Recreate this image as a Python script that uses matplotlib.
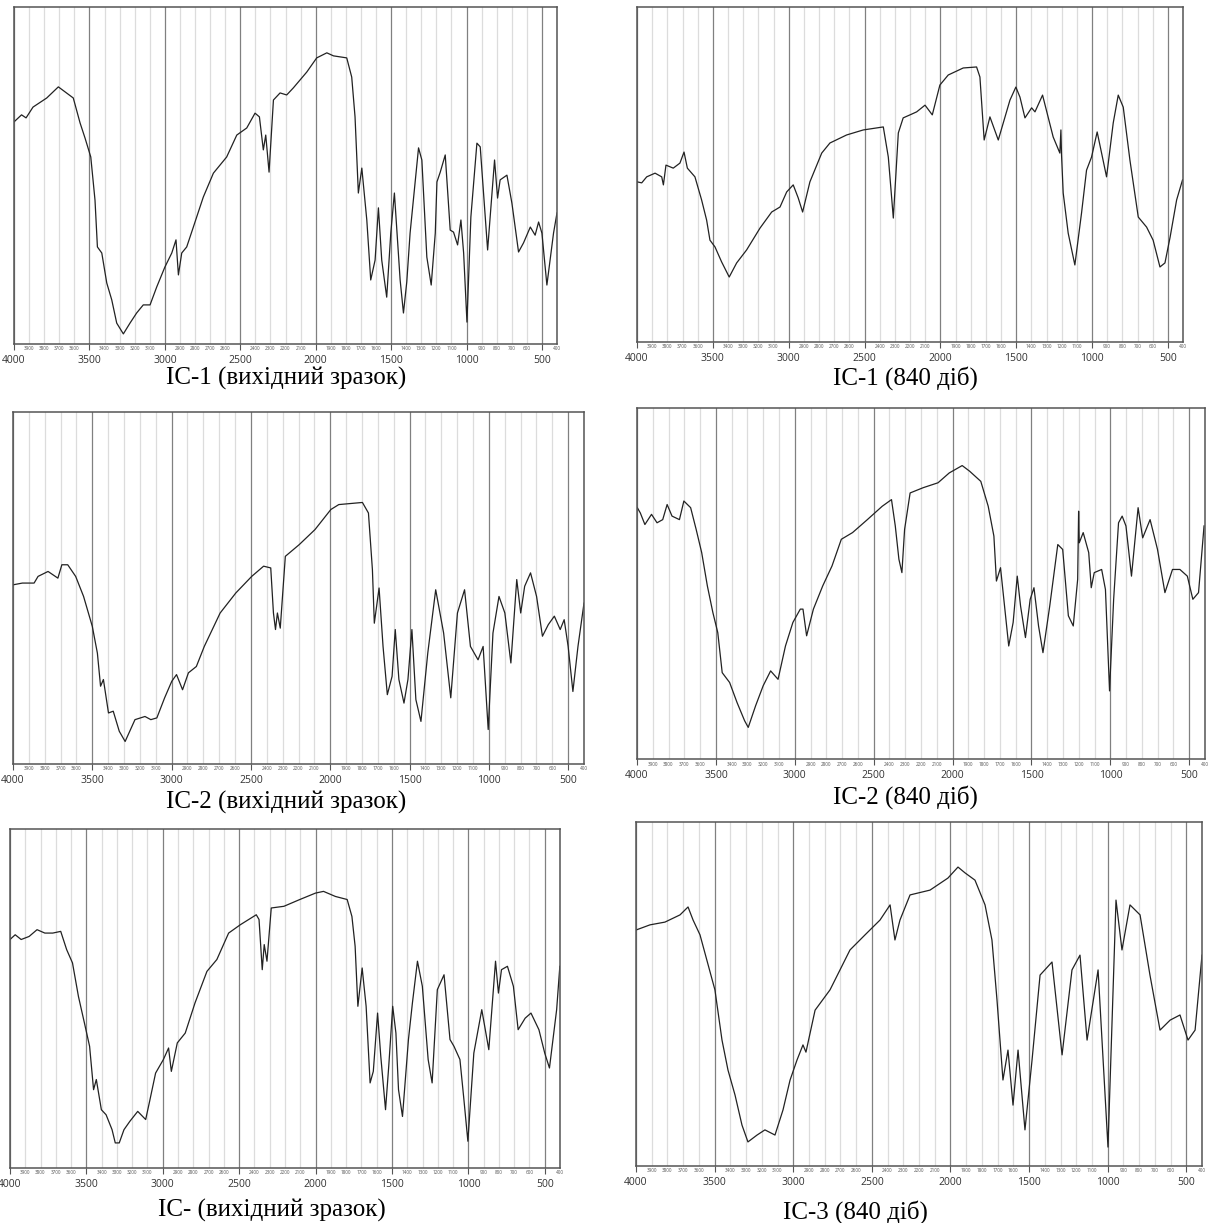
import matplotlib.pyplot as plt
from matplotlib.ticker import FixedLocator, FixedFormatter

# IR spectra, wavenumber (cm-1) and relative transmittance (0..100 of frame)
wn1 = [4000, 3950, 3920, 3874, 3783, 3706, 3607, 3562, 3529, 3491, 3463, 3447, 3418, 3385, 3352,
       3319, 3275, 3231, 3187, 3143, 3098, 3054, 3000, 2954, 2926, 2910, 2888, 2855, 2811, 2745,
       2678, 2590, 2523, 2457, 2402, 2373, 2347, 2331, 2309, 2280, 2236, 2192, 2148, 2059, 1993,
       1926, 1882, 1794, 1761, 1739, 1717, 1694, 1661, 1635, 1606, 1584, 1562, 1529, 1502, 1478,
       1440, 1418, 1396, 1374, 1318, 1296, 1263, 1234, 1207, 1196, 1174, 1141, 1108, 1086, 1059,
       1037, 1019, 997, 971, 931, 909, 860, 814, 794, 777, 732, 699, 655, 622, 577, 545, 522,
       500, 467, 423, 400]
t1 = [65.9, 68.0, 67.1, 70.3, 73.0, 76.3, 73.0, 65.6, 61.1, 55.5, 42.7, 28.8, 27.0, 18.1, 13.1,
      6.2, 3.0, 6.2, 9.2, 11.6, 11.6, 16.9, 22.8, 27.0, 30.9, 20.5, 27.0, 28.8, 34.7, 43.6,
      50.7, 55.5, 62.0, 64.1, 68.5, 67.4, 57.6, 62.0, 51.0, 72.4, 74.5, 73.9, 76.0, 80.7, 84.9,
      86.4, 85.5, 84.9, 79.2, 67.4, 44.8, 52.2, 36.8, 19.0, 24.9, 40.4, 24.9, 13.9, 32.9, 44.8,
      19.0, 9.2, 18.4, 32.9, 58.2, 54.6, 25.8, 17.5, 32.9, 48.1, 51.0, 56.1, 33.8, 33.2, 29.4,
      36.8, 27.0, 6.5, 37.7, 59.6, 58.5, 27.9, 54.6, 43.3, 48.7, 50.1, 41.8, 27.3, 30.0, 34.7, 32.3, 36.2,
      32.9, 17.5, 32.9, 38.9]

wn2 = [3998, 3969, 3936, 3881, 3837, 3826, 3809, 3761, 3717, 3690, 3668, 3618, 3574, 3541, 3519,
       3486, 3442, 3392, 3343, 3277, 3189, 3112, 3057, 3013, 2970, 2937, 2908, 2860, 2782, 2728,
       2618, 2508, 2376, 2343, 2310, 2277, 2245, 2200, 2156, 2101, 2053, 2003, 1948, 1849, 1761,
       1739, 1711, 1673, 1618, 1541, 1502, 1475, 1442, 1398, 1376, 1326, 1256, 1212, 1205, 1201,
       1190, 1157, 1113, 1069, 1036, 1003, 966, 904, 860, 827, 794, 750, 695, 640, 597, 552, 519,
       485, 442, 403]
t2 = [47.8, 47.5, 49.3, 50.4, 49.3, 46.9, 52.8, 51.9, 53.4, 56.7, 51.9, 49.3, 42.4, 36.4, 30.4,
      28.4, 23.9, 19.4, 23.6, 27.5, 34.0, 38.8, 40.3, 44.8, 46.9, 43.0, 38.8, 47.8, 56.4, 59.4,
      61.8, 63.3, 64.2, 55.2, 37.0, 62.4, 66.9, 67.8, 68.7, 70.7, 67.8, 76.7, 79.7, 81.8, 82.1,
      79.1, 60.3, 67.2, 60.3, 72.2, 76.1, 73.1, 66.9, 69.9, 68.7, 73.7, 61.2, 56.4, 63.3, 56.0,
      44.5, 32.5, 23.0, 38.5, 51.3, 55.2, 62.7, 49.3, 65.4, 73.7, 70.1, 54.3, 37.3, 34.3, 30.4, 22.4, 23.6,
      31.3, 42.4, 48.4]

wn3 = [4000, 3941, 3867, 3842, 3779, 3717, 3692, 3655, 3605, 3555, 3500, 3468, 3448, 3430, 3398,
       3368, 3330, 3293, 3231, 3168, 3131, 3093, 3044, 2999, 2969, 2931, 2894, 2844, 2794, 2694,
       2595, 2495, 2420, 2375, 2358, 2345, 2333, 2315, 2283, 2196, 2096, 1996, 1946, 1797, 1759,
       1734, 1722, 1692, 1667, 1640, 1610, 1590, 1567, 1535, 1510, 1485, 1460, 1428, 1385, 1335,
       1285, 1240, 1198, 1153, 1116, 1068, 1036, 1004, 974, 936, 899, 861, 824, 799, 774, 737,
       699, 662, 625, 587, 550, 525, 500, 470, 438, 400]
t3 = [50.9, 51.4, 51.4, 53.3, 54.7, 52.8, 56.6, 56.6, 53.3, 47.6, 39.1, 31.5, 22.1, 24.0, 14.5,
      15.0, 9.3, 6.4, 12.6, 13.5, 12.6, 13.1, 18.8, 23.5, 25.4, 21.1, 25.9, 27.7, 33.4, 42.9,
      48.6, 53.3, 56.2, 55.7, 42.9, 38.2, 42.9, 38.6, 59.0, 62.3, 66.6, 72.3, 73.7, 74.3, 71.3,
      55.2, 40.0, 50.0, 33.4, 19.7, 24.9, 38.2, 24.0, 17.3, 24.0, 38.2, 18.3, 12.1, 31.5, 49.5,
      37.2, 18.8, 42.9, 49.5, 33.4, 29.6, 33.4, 9.8, 37.2, 47.6, 42.9, 28.7, 52.4, 42.9, 50.5, 54.3,
      47.6, 36.3, 39.6, 42.0, 38.2, 41.0, 33.4, 20.6, 33.4, 45.7]

wn4 = [3998, 3979, 3950, 3908, 3873, 3837, 3809, 3778, 3731, 3703, 3660, 3625, 3590, 3554, 3519,
       3488, 3460, 3413, 3366, 3318, 3295, 3248, 3200, 3153, 3106, 3059, 3012, 2965, 2948, 2925,
       2882, 2823, 2764, 2705, 2634, 2540, 2446, 2387, 2363, 2340, 2321, 2304, 2269, 2186, 2092,
       2021, 1939, 1892, 1821, 1774, 1738, 1722, 1696, 1644, 1616, 1590, 1569, 1538, 1508, 1484,
       1455, 1427, 1384, 1333, 1302, 1266, 1235, 1207, 1201, 1197, 1172, 1137, 1121, 1102, 1055,
       1031, 1005, 979, 948, 925, 901, 866, 824, 795, 748, 701, 654, 606, 559, 512, 477, 441, 406]
t4 = [71.6, 70.1, 66.8, 69.7, 67.3, 68.2, 72.5, 69.2, 68.2, 73.5, 71.6, 65.4, 58.8, 49.3, 41.7,
      36.0, 24.6, 21.8, 16.1, 10.9, 9.0, 15.2, 20.9, 25.1, 22.7, 32.2, 38.9, 42.7, 42.7, 35.1,
      42.7, 49.3, 55.0, 62.6, 64.5, 68.2, 72.0, 73.9, 66.4, 56.9, 53.1, 65.4, 75.8, 77.3, 78.7,
      81.5, 83.6, 82.0, 79.1, 72.0, 63.5, 50.7, 54.5, 32.2, 38.9, 52.1, 43.6, 34.6, 45.5, 48.8,
      37.9, 30.3, 43.6, 61.1, 59.7, 40.8, 37.9, 51.2, 70.6, 61.6, 64.5, 58.8, 48.8, 53.1, 54.0,
      48.3, 19.4, 45.5, 67.3, 69.2, 66.4, 52.1, 71.6, 63.0, 68.2, 59.7, 47.4, 54.0, 54.0, 52.1, 45.5, 47.4, 66.4]

wn5 = [4000, 3966, 3927, 3875, 3823, 3772, 3720, 3668, 3629, 3591, 3552, 3513, 3479, 3453, 3435,
       3402, 3371, 3332, 3311, 3285, 3254, 3215, 3164, 3112, 3086, 3047, 2996, 2962, 2944, 2905,
       2853, 2789, 2711, 2646, 2569, 2491, 2388, 2370, 2349, 2336, 2318, 2290, 2207, 2103, 2000,
       1948, 1870, 1793, 1762, 1741, 1723, 1695, 1669, 1643, 1622, 1594, 1573, 1542, 1521, 1495,
       1474, 1457, 1431, 1392, 1366, 1333, 1301, 1263, 1237, 1203, 1159, 1120, 1094, 1055, 1029,
       1003, 964, 912, 866, 822, 803, 783, 744, 705, 674, 628, 590, 538, 500, 469, 422, 401]
t5 = [67.4, 68.8, 67.4, 68.3, 70.3, 69.3, 69.3, 69.8, 64.4, 60.5, 50.6, 42.8, 35.9, 23.1, 26.1,
      17.2, 15.7, 11.3, 7.4, 7.4, 11.3, 13.8, 16.7, 14.3, 19.7, 28.0, 32.0, 35.4, 28.5, 36.9,
      39.8, 48.7, 58.0, 61.5, 69.3, 71.8, 74.7, 73.3, 58.5, 65.9, 61.0, 76.7, 77.2, 79.2, 81.1,
      81.6, 80.1, 79.2, 74.2, 65.4, 47.7, 59.0, 47.7, 25.1, 28.5, 45.7, 32.9, 17.2, 30.0, 47.7,
      39.8, 23.1, 15.2, 37.9, 48.7, 61.0, 53.6, 32.0, 25.1, 52.6, 57.0, 37.9, 35.9, 32.0, 20.2,
      7.9, 33.9, 46.7, 34.9, 61.0, 51.6, 58.5, 59.5, 53.6, 40.8, 44.2, 45.7, 40.8, 33.9, 29.5, 46.7, 59.5]

wn6 = [4000, 3911, 3816, 3720, 3669, 3637, 3593, 3498, 3453, 3415, 3370, 3326, 3288, 3230, 3180,
       3116, 3065, 3020, 2976, 2938, 2919, 2861, 2766, 2639, 2543, 2448, 2384, 2353, 2321, 2257,
       2130, 2016, 1952, 1907, 1844, 1780, 1736, 1704, 1666, 1634, 1602, 1570, 1526, 1481, 1430,
       1354, 1290, 1227, 1176, 1131, 1061, 998, 947, 909, 858, 794, 731, 667, 603, 540, 489, 444, 400]
t6 = [68.6, 70.1, 70.9, 73.0, 75.3, 71.5, 67.2, 51.2, 36.6, 27.9, 20.6, 11.9, 7.0, 9.0, 10.5,
      9.0, 16.3, 25.0, 30.8, 35.2, 33.1, 45.3, 51.2, 62.8, 67.2, 71.5, 75.9, 65.7, 71.5, 78.8,
      80.2, 83.7, 86.9, 85.2, 83.1, 75.9, 65.7, 48.3, 25.0, 33.7, 17.7, 33.7, 10.5, 30.8, 55.5,
      59.3, 32.3, 57.0, 61.3, 36.6, 57.0, 5.5, 77.3, 62.8, 75.9, 73.0, 55.5, 39.5, 42.4, 43.9, 36.6, 39.5, 61.3]

spectra = [(wn1, t1), (wn2, t2), (wn3, t3), (wn4, t4), (wn5, t5), (wn6, t6)]
captions = ["IC-1 (вихідний зразок)", "IC-1 (840 діб)",
            "IC-2 (вихідний зразок)", "IC-2 (840 діб)",
            "IC- (вихідний зразок)", "IC-3 (840 діб)"]

W, H = 1208, 1223
# panel frames in pixels: x0, x1, y0 (top), y1 (bottom)
frames = [(14, 557, 7, 344), (637, 1183, 7, 342),
          (13, 584, 412, 764), (637, 1205, 408, 759),
          (10, 560, 829, 1168), (636, 1202, 822, 1166)]
caption_pos = [(286, 378), (905, 378), (286, 802), (905, 797), (272, 1210), (855, 1212)]

major = list(range(500, 4001, 500))
minor = [v for v in range(400, 4000, 100) if v % 500]

fig = plt.figure(figsize=(W / 100, H / 100), dpi=100)

for (wn, t), (x0, x1, y0, y1), cap, (cx, cy) in zip(spectra, frames, captions, caption_pos):
    ax = fig.add_axes([x0 / W, 1 - y1 / H, (x1 - x0) / W, (y1 - y0) / H])
    ax.plot(wn, t, color='#222222', lw=0.9)
    ax.set_xlim(4000, 400)
    ax.set_ylim(0, 100)
    ax.set_yticks([])
    ax.xaxis.set_major_locator(FixedLocator(major))
    ax.xaxis.set_minor_locator(FixedLocator(minor))
    ax.xaxis.set_minor_formatter(FixedFormatter([str(v) for v in minor]))
    ax.tick_params(which='major', length=4.5, width=0.8, color='#555555',
                   labelsize=7.5, pad=3.5, labelcolor='#333333')
    ax.tick_params(which='minor', length=0, labelsize=3.3, pad=1.8, labelcolor='#555555')
    for lab in ax.get_xticklabels(which='both'):
        lab.set_family('Open Sans')
    ax.grid(which='minor', axis='x', color='#dcdcdc', lw=0.9)
    ax.grid(which='major', axis='x', color='#808080', lw=0.9)
    ax.set_axisbelow(True)
    for sp in ax.spines.values():
        sp.set_color('#555555')
        sp.set_linewidth(1.1)
    fig.text(cx / W, 1 - cy / H, cap, ha='center', va='center',
             family='Liberation Serif', fontsize=18)

fig.savefig('out.png', dpi=100)
